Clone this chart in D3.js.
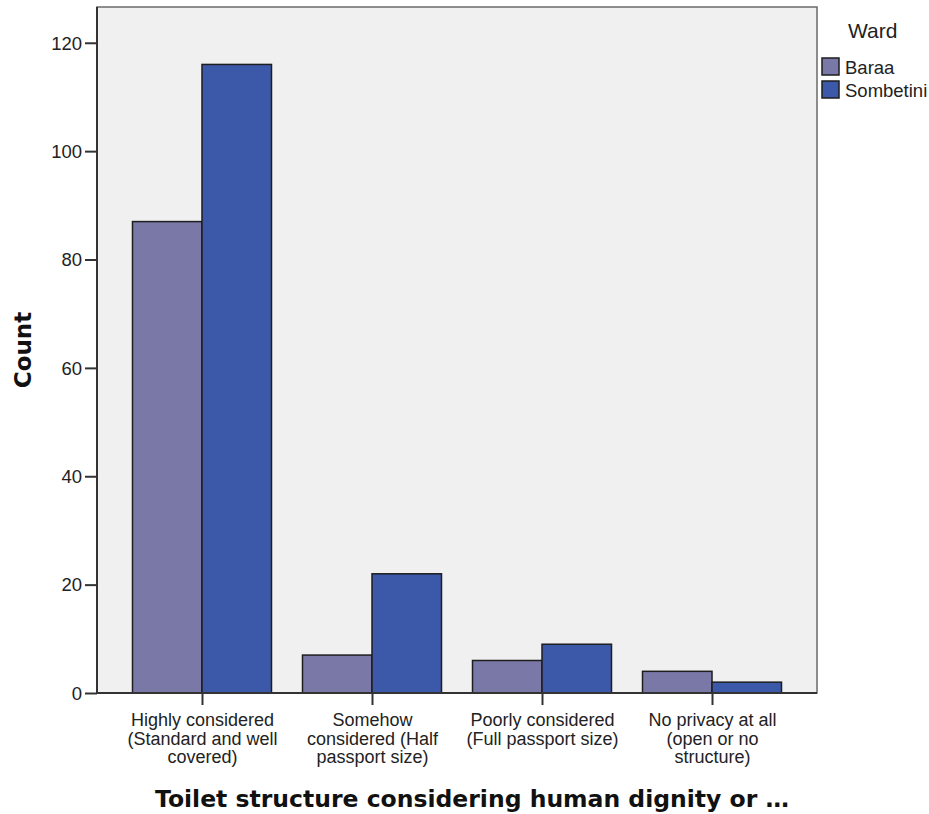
<!DOCTYPE html>
<html>
<head>
<meta charset="utf-8">
<script src="https://cdn.jsdelivr.net/npm/d3@7"></script>
<style>
  html, body { margin: 0; padding: 0; background: #fff; }
  svg { display: block; }
</style>
</head>
<body>
<svg id="chart" width="929" height="814"></svg>
<script>
const categories = [
  ["Highly considered", "(Standard and well", "covered)"],
  ["Somehow", "considered (Half", "passport size)"],
  ["Poorly considered", "(Full passport size)"],
  ["No privacy at all", "(open or no", "structure)"]
];
const categoryKeys = ["Highly", "Somehow", "Poorly", "None"];
const seriesNames = ["Baraa", "Sombetini"];
const baraa = [87, 7, 6, 4];
const sombetini = [116, 22, 9, 2];
const seriesColors = ["#7a78a7", "#3c58a9"];
const yTicks = [0, 20, 40, 60, 80, 100, 120];
const yTitle = "Count";
const xTitle = "Toilet structure considering human dignity or \u2026";
const legendTitle = "Ward";

const svg = d3.select("#chart");
const plot = { left: 97, right: 817, top: 7, bottom: 693 };

svg.append("rect")
  .attr("x", plot.left).attr("y", plot.top)
  .attr("width", plot.right - plot.left).attr("height", plot.bottom - plot.top)
  .attr("fill", "#f0f0f0").attr("stroke", "#6a6a6a").attr("stroke-width", 1.5);

const y = d3.scaleLinear().domain([0, 126.6]).range([plot.bottom, plot.top]);
const xs = d3.scalePoint().domain(categoryKeys).range([plot.left, plot.right]).padding(0.6176);
const barW = 69.5;
const sub = d3.scaleBand().domain(seriesNames).range([-barW, barW]).padding(0);

const data = categoryKeys.map((k, i) => ({ key: k, values: [baraa[i], sombetini[i]] }));

const groups = svg.append("g").selectAll("g").data(data).join("g")
  .attr("transform", d => `translate(${xs(d.key)},0)`);
groups.selectAll("rect").data(d => d.values.map((v, j) => ({ name: seriesNames[j], v, j })))
  .join("rect")
  .attr("x", d => sub(d.name))
  .attr("width", sub.bandwidth())
  .attr("y", d => y(d.v))
  .attr("height", d => y(0) - y(d.v))
  .attr("fill", d => seriesColors[d.j])
  .attr("stroke", "#1e1e1e").attr("stroke-width", 1.5);

// y axis
const yAxis = d3.axisLeft(y).tickValues(yTicks).tickSize(12).tickPadding(3).tickSizeOuter(0);
const ya = svg.append("g").attr("transform", `translate(${plot.left},0)`).call(yAxis);
ya.select(".domain").attr("stroke", "#333").attr("stroke-width", 2)
  .attr("d", `M0,${plot.top}V${plot.bottom}`);
ya.selectAll(".tick line").attr("stroke", "#333").attr("stroke-width", 2).attr("x2", -12);
ya.selectAll(".tick text").attr("font-family", "Arial, 'Liberation Sans', sans-serif")
  .attr("font-size", 18.5).attr("fill", "#222").attr("dy", "0.34em");

// x axis
const xAxis = d3.axisBottom(xs).tickSize(12).tickSizeOuter(0).tickFormat("");
const xa = svg.append("g").attr("transform", `translate(0,${plot.bottom})`).call(xAxis);
xa.select(".domain").attr("stroke", "#333").attr("stroke-width", 2)
  .attr("d", `M${plot.left},0H${plot.right}`);
xa.selectAll(".tick line").attr("stroke", "#333").attr("stroke-width", 2);
xa.selectAll(".tick").each(function(d, i) {
  const t = d3.select(this).append("text")
    .attr("text-anchor", "middle")
    .attr("font-family", "Arial, 'Liberation Sans', sans-serif")
    .attr("font-size", 18).attr("fill", "#222");
  categories[i].forEach((line, li) => {
    t.append("tspan").attr("x", 0).attr("y", 33 + li * 18.6).text(line);
  });
});

// titles
svg.append("text")
  .attr("transform", `translate(31,350) rotate(-90)`)
  .attr("text-anchor", "middle")
  .attr("font-family", "'DejaVu Sans', Verdana, sans-serif").attr("font-weight", "bold")
  .attr("font-size", 23).attr("fill", "#111").text(yTitle);
svg.append("text")
  .attr("x", 472).attr("y", 807)
  .attr("text-anchor", "middle")
  .attr("font-family", "'DejaVu Sans', Verdana, sans-serif").attr("font-weight", "bold")
  .attr("font-size", 23.5).attr("fill", "#111").text(xTitle);

// legend
svg.append("text").attr("x", 848).attr("y", 38)
  .attr("font-family", "Arial, 'Liberation Sans', sans-serif")
  .attr("font-size", 21).attr("fill", "#222").text(legendTitle);
const lg = svg.append("g").selectAll("g").data(seriesNames).join("g")
  .attr("transform", (d, i) => `translate(822,${58 + i * 23})`);
lg.append("rect").attr("width", 17).attr("height", 17)
  .attr("fill", (d, i) => seriesColors[i]).attr("stroke", "#1e1e1e").attr("stroke-width", 1.5);
lg.append("text").attr("x", 23).attr("y", 16)
  .attr("font-family", "Arial, 'Liberation Sans', sans-serif")
  .attr("font-size", 18.5).attr("fill", "#222").text(d => d);
</script>
</body>
</html>
